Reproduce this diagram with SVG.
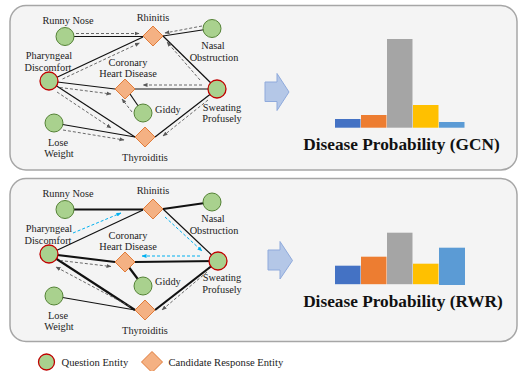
<svg xmlns="http://www.w3.org/2000/svg" width="518" height="371" viewBox="0 0 518 371">
<defs>
<style>
.panel{fill:#f4f4f4;stroke:#a6a6a6;stroke-width:1.5}
.lbl{font-family:"Liberation Serif","Times New Roman",serif;font-size:10.3px;fill:#222;text-anchor:middle}
.lgd{font-family:"Liberation Serif","Times New Roman",serif;font-size:10.6px;fill:#222}
.title{font-family:"Liberation Serif","Times New Roman",serif;font-size:17.3px;font-weight:bold;fill:#111;text-anchor:middle}
.q{fill:#a9d18e;stroke:#548235;stroke-width:1}
.qr{fill:#a9d18e;stroke:#c00000;stroke-width:1.3}
.c{fill:#f4b183;stroke:#e07b39;stroke-width:1}
.e{stroke:#111;stroke-width:1.2;fill:none}
.et{stroke:#111;stroke-width:2.2;fill:none}
.dg{stroke:#595959;stroke-width:0.9;stroke-dasharray:3 2;fill:none;marker-end:url(#ag)}
.db{stroke:#00b0f0;stroke-width:1;stroke-dasharray:3 2;fill:none;marker-end:url(#ab)}
.blk{fill:#b4c7e7;stroke:#8faadc;stroke-width:1}
</style>
<marker id="ag" viewBox="0 0 10 10" refX="9" refY="5" markerWidth="5" markerHeight="5" markerUnits="userSpaceOnUse" orient="auto"><path d="M0,1 L10,5 L0,9 z" fill="#595959"/></marker>
<marker id="ab" viewBox="0 0 10 10" refX="9" refY="5" markerWidth="5" markerHeight="5" markerUnits="userSpaceOnUse" orient="auto"><path d="M0,1 L10,5 L0,9 z" fill="#00b0f0"/></marker>
<polygon id="dia" points="0,-10 10,0 0,10 -10,0"/>
</defs>
<rect width="518" height="371" fill="#ffffff"/>

<!-- Panels -->
<rect class="panel" x="10" y="5.5" width="507" height="164.5" rx="16"/>
<rect class="panel" x="10" y="178.5" width="507" height="163" rx="16"/>

<!-- ===== GCN panel connectors ===== -->
<g id="gcn-edges">
<line class="e" x1="65" y1="36.5" x2="143" y2="36.5"/>
<line class="e" x1="212" y1="28.5" x2="163" y2="36"/>
<line class="e" x1="49" y1="81" x2="143" y2="37"/>
<line class="e" x1="49" y1="81" x2="115" y2="89"/>
<line class="e" x1="49" y1="81" x2="135" y2="137"/>
<line class="e" x1="54" y1="123" x2="135" y2="137"/>
<line class="e" x1="143" y1="113" x2="130" y2="94"/>
<line class="e" x1="217" y1="89" x2="163" y2="36"/>
<line class="e" x1="217" y1="89" x2="135" y2="89"/>
<line class="e" x1="217" y1="89" x2="155" y2="137"/>
<line class="dg" x1="76" y1="33.5" x2="139" y2="33.5"/>
<line class="dg" x1="202" y1="26" x2="165" y2="33"/>
<line class="dg" x1="62.5" y1="79" x2="139.5" y2="43"/>
<line class="dg" x1="60" y1="87.5" x2="111" y2="94"/>
<line class="dg" x1="57" y1="92" x2="111" y2="128"/>
<line class="dg" x1="63" y1="130" x2="124" y2="140"/>
<line class="dg" x1="132" y1="112" x2="122" y2="99"/>
<line class="dg" x1="200" y1="80" x2="167" y2="42"/>
<line class="dg" x1="202" y1="85" x2="143" y2="85"/>
<line class="dg" x1="208" y1="100" x2="163" y2="136"/>
</g>

<!-- GCN nodes -->
<g id="gcn-runny-nose"><circle class="q" cx="65" cy="36.5" r="9"/><text class="lbl" x="68" y="23.5">Runny Nose</text></g>
<g id="gcn-rhinitis"><use href="#dia" class="c" x="153" y="36"/><text class="lbl" x="153" y="21">Rhinitis</text></g>
<g id="gcn-nasal"><circle class="q" cx="212" cy="28.5" r="9"/><text class="lbl" x="213" y="48.5">Nasal</text><text class="lbl" x="214" y="61">Obstruction</text></g>
<g id="gcn-pharyngeal"><circle class="qr" cx="49" cy="81" r="9"/><text class="lbl" x="49" y="58.5">Pharyngeal</text><text class="lbl" x="48" y="70.5">Discomfort</text></g>
<g id="gcn-coronary"><use href="#dia" class="c" x="125" y="89"/><text class="lbl" x="128" y="66">Coronary</text><text class="lbl" x="128" y="77">Heart Disease</text></g>
<g id="gcn-giddy"><circle class="q" cx="143" cy="113" r="9"/><text class="lbl" x="155" y="112.5" text-anchor="start" style="text-anchor:start">Giddy</text></g>
<g id="gcn-sweating"><circle class="qr" cx="217" cy="89" r="9"/><text class="lbl" x="222" y="110.5">Sweating</text><text class="lbl" x="222" y="122">Profusely</text></g>
<g id="gcn-lose-weight"><circle class="q" cx="54" cy="123" r="9"/><text class="lbl" x="58" y="145.5">Lose</text><text class="lbl" x="59" y="157">Weight</text></g>
<g id="gcn-thyroiditis"><use href="#dia" class="c" x="145" y="137"/><text class="lbl" x="145" y="161">Thyroiditis</text></g>

<!-- GCN result -->
<g id="gcn-arrow"><polygon class="blk" points="265,82 277,82 277,73.5 289,92 277,110.5 277,101.5 265,101.5"/></g>
<g id="gcn-chart">
<rect x="335" y="119" width="25.5" height="8.7" fill="#4472c4"/>
<rect x="361" y="115" width="25.5" height="12.7" fill="#ed7d31"/>
<rect x="387" y="39" width="25.5" height="88.7" fill="#a5a5a5"/>
<rect x="413" y="105" width="25.5" height="22.7" fill="#ffc000"/>
<rect x="439" y="122" width="25.5" height="5.7" fill="#5b9bd5"/>
<text class="title" x="401.5" y="150">Disease Probability (GCN)</text>
</g>

<!-- ===== RWR panel connectors ===== -->
<g id="rwr-edges">
<line class="et" x1="65" y1="209.5" x2="143" y2="209.5"/>
<line class="et" x1="212" y1="202" x2="163" y2="209"/>
<line class="e" x1="49" y1="254" x2="143" y2="210"/>
<line class="e" x1="163" y1="209" x2="218" y2="261"/>
<line class="et" x1="49" y1="254" x2="115" y2="262"/>
<line class="et" x1="218" y1="261" x2="135" y2="262"/>
<line class="et" x1="125" y1="262" x2="143" y2="286"/>
<line class="et" x1="49" y1="254" x2="135" y2="310"/>
<line class="e" x1="54" y1="296" x2="135" y2="310"/>
<line class="et" x1="218" y1="261" x2="155" y2="310"/>
<line class="db" x1="73" y1="233" x2="121" y2="213"/>
<line class="db" x1="165" y1="217" x2="202" y2="251"/>
<line class="db" x1="200" y1="256" x2="142" y2="256"/>
<line class="dg" x1="60" y1="260.5" x2="111" y2="266.5"/>
<line class="dg" x1="130" y1="306.5" x2="56" y2="267"/>
<line class="dg" x1="207" y1="272" x2="162" y2="310"/>
</g>

<!-- RWR nodes -->
<g id="rwr-runny-nose"><circle class="q" cx="65" cy="209.5" r="9"/><text class="lbl" x="68" y="196.5">Runny Nose</text></g>
<g id="rwr-rhinitis"><use href="#dia" class="c" x="153" y="209"/><text class="lbl" x="153" y="194">Rhinitis</text></g>
<g id="rwr-nasal"><circle class="q" cx="212" cy="202" r="9"/><text class="lbl" x="213" y="221.5">Nasal</text><text class="lbl" x="214" y="234">Obstruction</text></g>
<g id="rwr-pharyngeal"><circle class="qr" cx="49" cy="254" r="9"/><text class="lbl" x="49" y="231.5">Pharyngeal</text><text class="lbl" x="48" y="243.5">Discomfort</text></g>
<g id="rwr-coronary"><use href="#dia" class="c" x="125" y="262"/><text class="lbl" x="128" y="239">Coronary</text><text class="lbl" x="128" y="250">Heart Disease</text></g>
<g id="rwr-giddy"><circle class="q" cx="143" cy="286" r="9"/><text class="lbl" x="155" y="285" style="text-anchor:start">Giddy</text></g>
<g id="rwr-sweating"><circle class="qr" cx="218" cy="261" r="9"/><text class="lbl" x="222" y="281">Sweating</text><text class="lbl" x="222" y="292.5">Profusely</text></g>
<g id="rwr-lose-weight"><circle class="q" cx="54" cy="296" r="9"/><text class="lbl" x="58" y="318.5">Lose</text><text class="lbl" x="59" y="330">Weight</text></g>
<g id="rwr-thyroiditis"><use href="#dia" class="c" x="145" y="310"/><text class="lbl" x="145" y="334">Thyroiditis</text></g>

<!-- RWR result -->
<g id="rwr-arrow"><polygon class="blk" points="268,250 280,250 280,241.5 292.5,260.5 280,279 280,270 268,270"/></g>
<g id="rwr-chart">
<rect x="335" y="265.7" width="25.5" height="18.5" fill="#4472c4"/>
<rect x="361" y="256.7" width="25.5" height="27.5" fill="#ed7d31"/>
<rect x="387" y="232.7" width="25.5" height="51.5" fill="#a5a5a5"/>
<rect x="413" y="263.7" width="25.5" height="20.5" fill="#ffc000"/>
<rect x="439" y="247.7" width="26" height="37.3" fill="#5b9bd5"/>
<text class="title" x="403" y="306.5">Disease Probability (RWR)</text>
</g>

<!-- Legend -->
<g id="legend-question"><circle class="qr" cx="46.5" cy="362" r="8"/><text class="lgd" x="61.5" y="366">Question Entity</text></g>
<g id="legend-candidate"><polygon class="c" points="152,351.5 162.5,362 152,372.5 141.5,362"/><text class="lgd" x="168.5" y="366">Candidate Response Entity</text></g>
</svg>
